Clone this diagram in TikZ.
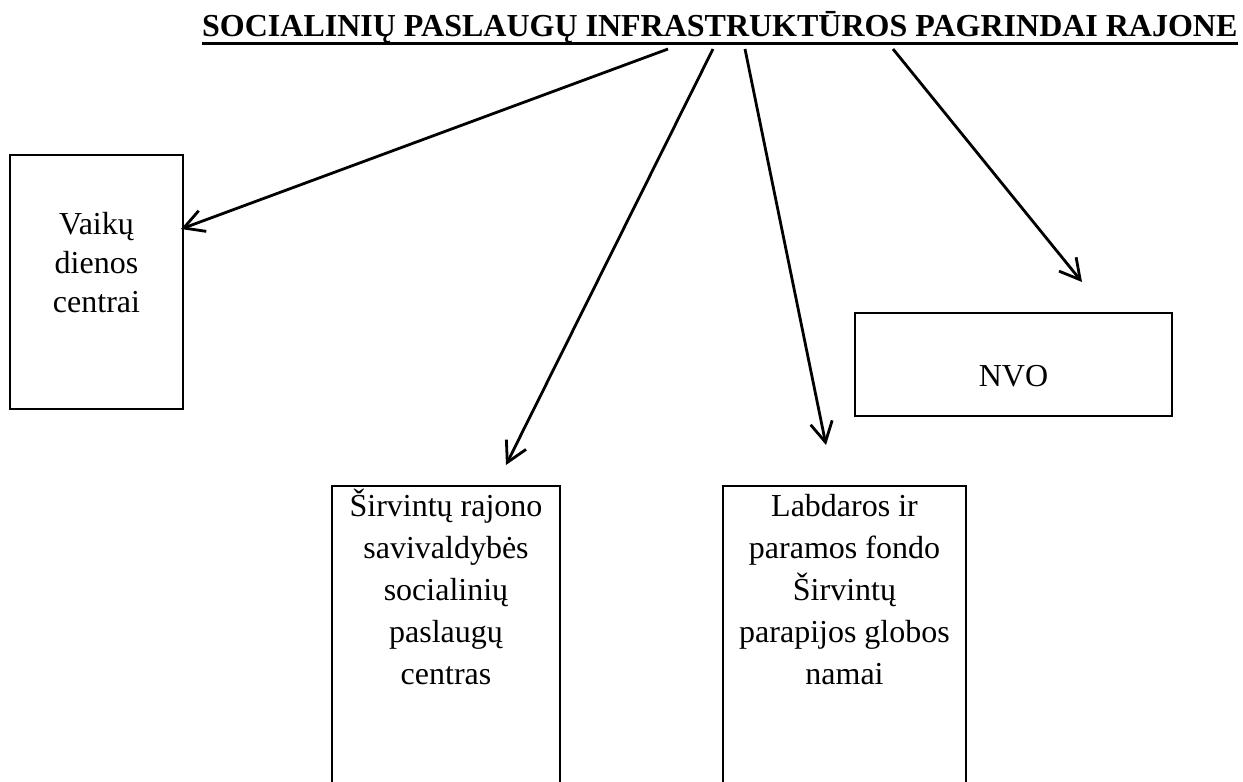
\documentclass[tikz,border=0pt]{standalone}
\usepackage{fontspec}
\setmainfont{Liberation Serif}
\usetikzlibrary{arrows.meta}
\tikzset{
  boxnode/.style={draw, line width=2.7pt, inner sep=0pt, rectangle},
  txt/.style={inner sep=0pt, align=center, font=\fontsize{32pt}{42pt}\selectfont},
  link/.style={line width=2.8pt, -{Straight Barb[length=20pt, width=22pt, line width=2.8pt]}}
}
\begin{document}
\begin{tikzpicture}[x=1pt, y=-1pt]
\useasboundingbox (0,0) rectangle (1243,782);
\clip (0,0) rectangle (1243,782);
% title
\node[inner sep=0pt, anchor=base west, font=\fontsize{32pt}{38pt}\selectfont\bfseries] (title) at (202,36) {SOCIALINIŲ PASLAUGŲ INFRASTRUKTŪROS PAGRINDAI RAJONE};
\draw[line width=3pt] ([yshift=-7.5pt]title.base west) -- ([yshift=-7.5pt]title.base east);
% boxes
\node[boxnode, minimum width=173pt, minimum height=254pt] (vbox) at (96.5,282) {};
\node[boxnode, minimum width=228pt, minimum height=340pt] (sbox) at (446,656) {};
\node[boxnode, minimum width=243pt, minimum height=340pt] (lbox) at (844.5,656) {};
\node[boxnode, minimum width=317pt, minimum height=103pt] (nbox) at (1013.5,364.5) {};
% texts
\node[txt, anchor=north, font=\fontsize{32pt}{39pt}\selectfont] (vtxt) at (96.5,206.7) {\strut Vaikų\\dienos\\centrai};
\node[txt, anchor=north] (stxt) at (446,486.6) {\strut Širvintų rajono\\savivaldybės\\socialinių\\paslaugų\\centras};
\node[txt, anchor=north] (ltxt) at (844.5,486.6) {\strut Labdaros ir\\paramos fondo\\Širvintų\\parapijos globos\\namai};
\node[txt, anchor=base] (ntxt) at (1013.5,386) {NVO};
% connector ends
\coordinate (s1) at (668,49);
\coordinate (s2) at (713,49);
\coordinate (s3) at (745,49);
\coordinate (s4) at (893,49);
\coordinate (t1) at (181,229);
\coordinate (t2) at (506,465);
\coordinate (t3) at (826,445);
\coordinate (t4) at (1082,282);
\draw[link] (s1) -- (t1);
\draw[link] (s2) -- (t2);
\draw[link] (s3) -- (t3);
\draw[link] (s4) -- (t4);
\end{tikzpicture}
\end{document}
